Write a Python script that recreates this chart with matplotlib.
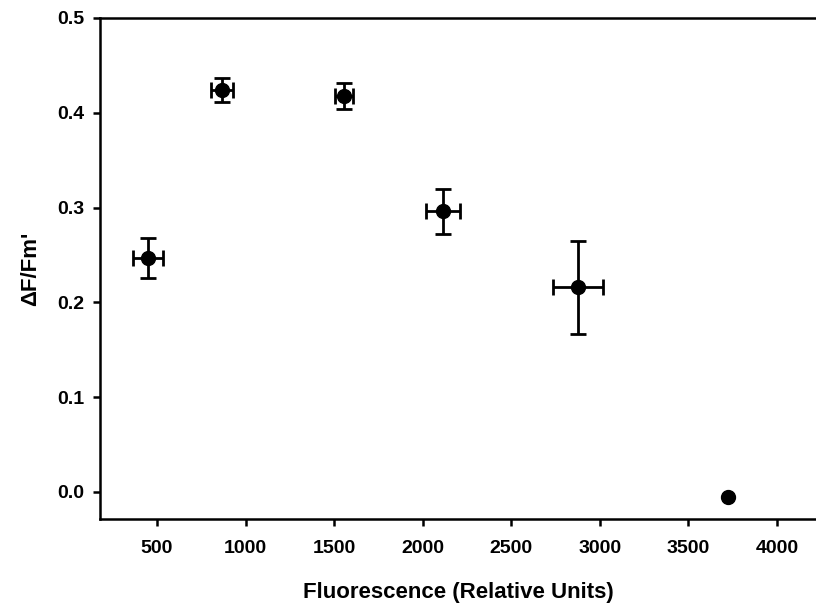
import matplotlib.pyplot as plt
import numpy as np

plt.rcParams['font.family'] = ['Liberation Sans', 'DejaVu Sans']

# fluorescence vs. quantum yield
fluor = [449, 867, 1555, 2114, 2876, 3722]
fluor_err = [85, 62, 51, 96, 140, 0]
yield_ = [0.247, 0.424, 0.418, 0.296, 0.216, -0.005]
yield_err = [0.021, 0.013, 0.0137, 0.024, 0.049, 0]

x_ticks = [500, 1000, 1500, 2000, 2500, 3000, 3500, 4000]
y_ticks = [0.0, 0.1, 0.2, 0.3, 0.4, 0.5]

fig = plt.figure(figsize=(8.16, 6.05), dpi=100)
ax = fig.add_axes([100 / 816, 86 / 605, 1 - 100 / 816, 501 / 605])

ax.errorbar(fluor[:5], yield_[:5], xerr=fluor_err[:5], yerr=yield_err[:5],
            fmt='o', color='black', ms=10, elinewidth=2, capsize=6, capthick=2)
ax.plot(fluor[5:], yield_[5:], 'o', color='black', ms=10)

ax.set_xlim(178, 4220)
ax.set_ylim(-0.0285, 0.5)
ax.set_xticks(x_ticks)
ax.set_yticks(y_ticks)
ax.set_yticklabels(['%.1f' % v for v in y_ticks])

ax.spines['right'].set_visible(False)
for s in ['left', 'bottom', 'top']:
    ax.spines[s].set_linewidth(1.8)
ax.tick_params(direction='out', length=5, width=1.8, labelsize=14)
ax.tick_params(axis='x', pad=10)
ax.tick_params(axis='y', pad=6)
for lab in ax.get_xticklabels() + ax.get_yticklabels():
    lab.set_fontweight('bold')

ax.set_xlabel('Fluorescence (Relative Units)', fontsize=16, fontweight='bold',
              labelpad=18)
ax.set_ylabel("ΔF/Fm'", fontsize=16, fontweight='bold', labelpad=12)

fig.savefig('out.png', dpi=100)
